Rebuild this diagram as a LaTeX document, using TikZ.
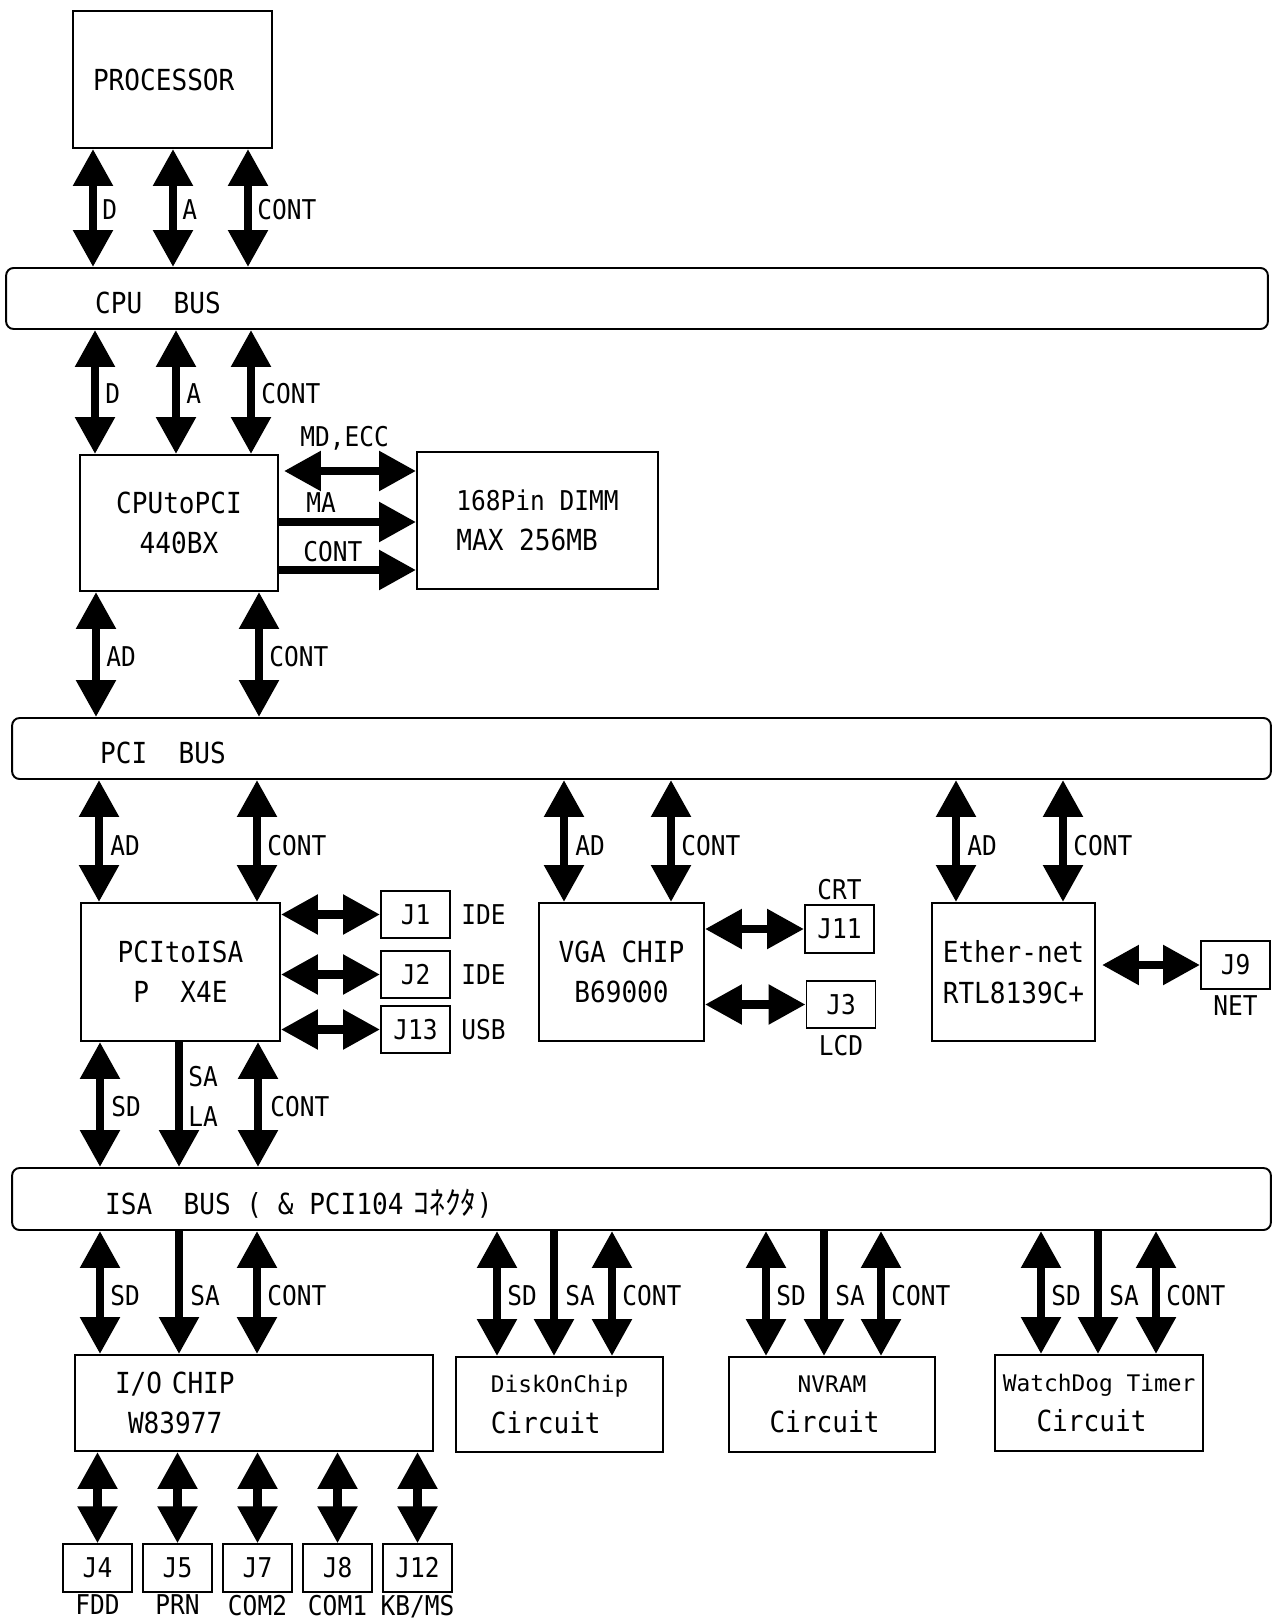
\documentclass[tikz,border=0pt]{standalone}
\usepackage{fontspec}
\newfontfamily\gfont{DejaVu Sans Mono}[FakeStretch=0.9]
\newfontfamily\gwfont{DejaVu Sans Mono}
\newfontfamily\kanafont{Noto Sans CJK JP}
\newcommand{\boxfont}{\gfont\fontsize{16.5}{23}\selectfont}
\newcommand{\sigfont}{\gfont\fontsize{15.5}{22}\selectfont}
\newcommand{\minifont}{\gwfont\fontsize{13}{22}\selectfont}
\newcommand{\cell}{\phantom{X}}
\usepackage{tikz}
\usetikzlibrary{arrows.meta,positioning}

\tikzset{
  chip/.style={draw, line width=1.1pt, inner sep=0pt, align=center, font=\boxfont},
  busbar/.style={draw, line width=1.1pt, rounded corners=0.15cm, inner ysep=0pt,
                 align=left, font=\boxfont, minimum height=1.22cm,
                 text height=0.6cm, text depth=0cm},
  jack/.style={draw, line width=1.1pt, inner sep=0pt, minimum width=1.38cm,
               minimum height=0.95cm, font=\sigfont},
  biarrow/.style={line width=0.17cm,
    {Triangle[length=0.74cm,width=0.76cm]}-{Triangle[length=0.74cm,width=0.76cm]}},
  oneway/.style={line width=0.17cm, -{Triangle[length=0.74cm,width=0.76cm]}},
  sig/.style={font=\sigfont, inner sep=0pt, anchor=west},
}

\begin{document}
\begin{tikzpicture}[x=0.02cm, y=-0.02cm]
  \useasboundingbox (0,0) rectangle (1275,1621);

  % blocks and buses
  \node[chip, minimum height=2.74cm, text width=3.18cm, inner xsep=0.4cm, align=left] (proc)
    at (172.5,79.5) {PROCESSOR};
  \node[busbar, text width=21.68cm, inner xsep=1.78cm] (cpubus) at (637,298.5) {CPU\cell\cell BUS};
  \node[chip, minimum width=3.96cm, minimum height=2.72cm] (nb) at (179,523) {CPUtoPCI\\440BX};
  \node[chip, minimum width=4.82cm, minimum height=2.74cm, align=left] (dimm) at (537.5,520.5)
    {{\sigfont 168Pin DIMM}\\MAX 256MB};
  \node[busbar, text width=21.66cm, inner xsep=1.76cm] (pcibus) at (641.5,748.5) {PCI\cell\cell BUS};

  \node[chip, minimum width=3.98cm, minimum height=2.76cm] (sb) at (180.5,972) {PCItoISA\\P~~X4E};
  \node[jack] (j1) at (415.5,914.5) {J1};
  \node[jack] (j2) at (415.5,974.5) {J2};
  \node[jack] (j13) at (415.5,1029.5) {J13};
  \node[sig, right=0.2cm of j1] {IDE};
  \node[sig, right=0.2cm of j2] {IDE};
  \node[sig, right=0.2cm of j13] {USB};

  \node[chip, minimum width=3.3cm, minimum height=2.76cm] (vga) at (621.5,972) {VGA CHIP\\B69000};
  \node[jack] (j11) at (839.5,929) {J11};
  \node[jack] (j3) at (841,1004.5) {J3};
  \node[sig, above=0.08cm of j11] {CRT};
  \node[sig, below=0.12cm of j3] {LCD};

  \node[chip, minimum width=3.26cm, minimum height=2.76cm] (eth) at (1013.5,972) {Ether-net\\RTL8139C+};
  \node[jack] (j9) at (1235.5,965) {J9};
  \node[sig, below=0.12cm of j9] {NET};

  \node[busbar, text width=21.46cm, inner xsep=1.86cm, minimum height=1.24cm] (isabus) at (641.5,1199)
    {ISA\cell\cell BUS\cell(\cell\&\cell PCI104\hspace{0.2cm}{\kanafont\fontsize{18}{20}\selectfont ｺﾈｸﾀ})};

  \node[chip, minimum height=1.92cm, text width=5.56cm, inner xsep=0.8cm, align=left] (io) at (254,1403)
    {I/O CHIP\\\hspace*{0.26cm}W83977};
  \node[chip, minimum width=4.14cm, minimum height=1.9cm, align=left] (doc) at (559.5,1404.5)
    {{\minifont DiskOnChip}\\Circuit};
  \node[chip, minimum width=4.12cm, minimum height=1.9cm] (nvram) at (832,1404.5)
    {{\minifont NVRAM}\\Circuit\hspace*{0.3cm}};
  \node[chip, minimum width=4.16cm, minimum height=1.92cm] (wdt) at (1099,1403)
    {{\minifont WatchDog Timer}\\Circuit\hspace*{0.3cm}};

  \node[jack] (j4) at (97.5,1568) {J4};
  \node[jack] (j5) at (177.5,1568) {J5};
  \node[jack] (j7) at (257.5,1568) {J7};
  \node[jack] (j8) at (337.5,1568) {J8};
  \node[jack] (j12) at (417.5,1568) {J12};
  \node[sig, below=0.04cm of j4] {FDD};
  \node[sig, below=0.04cm of j5] {PRN};
  \node[sig, below=0.04cm of j7] {COM2};
  \node[sig, below=0.04cm of j8] {COM1};
  \node[sig, below=0.04cm of j12] {KB/MS};

  % processor <-> cpu bus <-> CPUtoPCI
  \foreach \x/\t in {93/D,173/A,248/CONT}{
    \draw[biarrow] (proc.south -| \x,0) -- (cpubus.north -| \x,0);
    \node[sig] at (\x+9,210) {\t};
  }
  \foreach \x/\t in {95/D,176/A,251/CONT}{
    \draw[biarrow] (cpubus.south -| \x,0) -- (nb.north -| \x,0);
    \node[sig] at (\x+10,394) {\t};
  }

  % memory
  \draw[biarrow, shorten <=0.1cm] (nb.east |- 0,471) -- (dimm.west |- 0,471);
  \draw[oneway] (nb.east |- 0,522) -- (dimm.west |- 0,522);
  \draw[oneway] (nb.east |- 0,570) -- (dimm.west |- 0,570);
  \node[sig] at (300,438) {MD,ECC};
  \node[sig] at (306,503) {MA};
  \node[sig] at (303,552) {CONT};

  % CPUtoPCI <-> pci bus
  \foreach \x/\t in {96/AD,259/CONT}{
    \draw[biarrow] (nb.south -| \x,0) -- (pcibus.north -| \x,0);
    \node[sig] at (\x+10,657) {\t};
  }

  % pci bus <-> devices
  \foreach \c/\a/\b in {sb/99/257,vga/564/671,eth/956/1063}{
    \draw[biarrow] (pcibus.south -| \a,0) -- (\c.north -| \a,0);
    \draw[biarrow] (pcibus.south -| \b,0) -- (\c.north -| \b,0);
    \node[sig] at (\a+11,846) {AD};
    \node[sig] at (\b+10,846) {CONT};
  }
  \draw[biarrow] (sb.east |- j1.west) -- (j1.west);
  \draw[biarrow] (sb.east |- j2.west) -- (j2.west);
  \draw[biarrow] (sb.east |- j13.west) -- (j13.west);
  \draw[biarrow] (vga.east |- j11.west) -- (j11.west);
  \draw[biarrow] (vga.east |- j3.west) -- (j3.west);
  \draw[biarrow, shorten <=0.12cm] (eth.east |- j9.west) -- (j9.west);

  % PCItoISA <-> isa bus
  \draw[biarrow] (sb.south -| 100,0) -- (isabus.north -| 100,0);
  \draw[oneway] (sb.south -| 179,0) -- (isabus.north -| 179,0);
  \draw[biarrow] (sb.south -| 258,0) -- (isabus.north -| 258,0);
  \node[sig] at (111,1107) {SD};
  \node[sig] at (188,1077) {SA};
  \node[sig] at (188,1117) {LA};
  \node[sig] at (270,1107) {CONT};

  % isa bus <-> devices
  \foreach \c/\a/\b/\d in {io/100/179/257,doc/497/554/612,nvram/766/824/881,wdt/1041/1098/1156}{
    \draw[biarrow] (isabus.south -| \a,0) -- (\c.north -| \a,0);
    \draw[oneway] (isabus.south -| \b,0) -- (\c.north -| \b,0);
    \draw[biarrow] (isabus.south -| \d,0) -- (\c.north -| \d,0);
    \node[sig] at (\a+10,1296) {SD};
    \node[sig] at (\b+11,1296) {SA};
    \node[sig] at (\d+10,1296) {CONT};
  }

  % I/O CHIP <-> connectors
  \draw[biarrow] (io.south -| j4.north) -- (j4.north);
  \draw[biarrow] (io.south -| j5.north) -- (j5.north);
  \draw[biarrow] (io.south -| j7.north) -- (j7.north);
  \draw[biarrow] (io.south -| j8.north) -- (j8.north);
  \draw[biarrow] (io.south -| j12.north) -- (j12.north);
\end{tikzpicture}
\end{document}
